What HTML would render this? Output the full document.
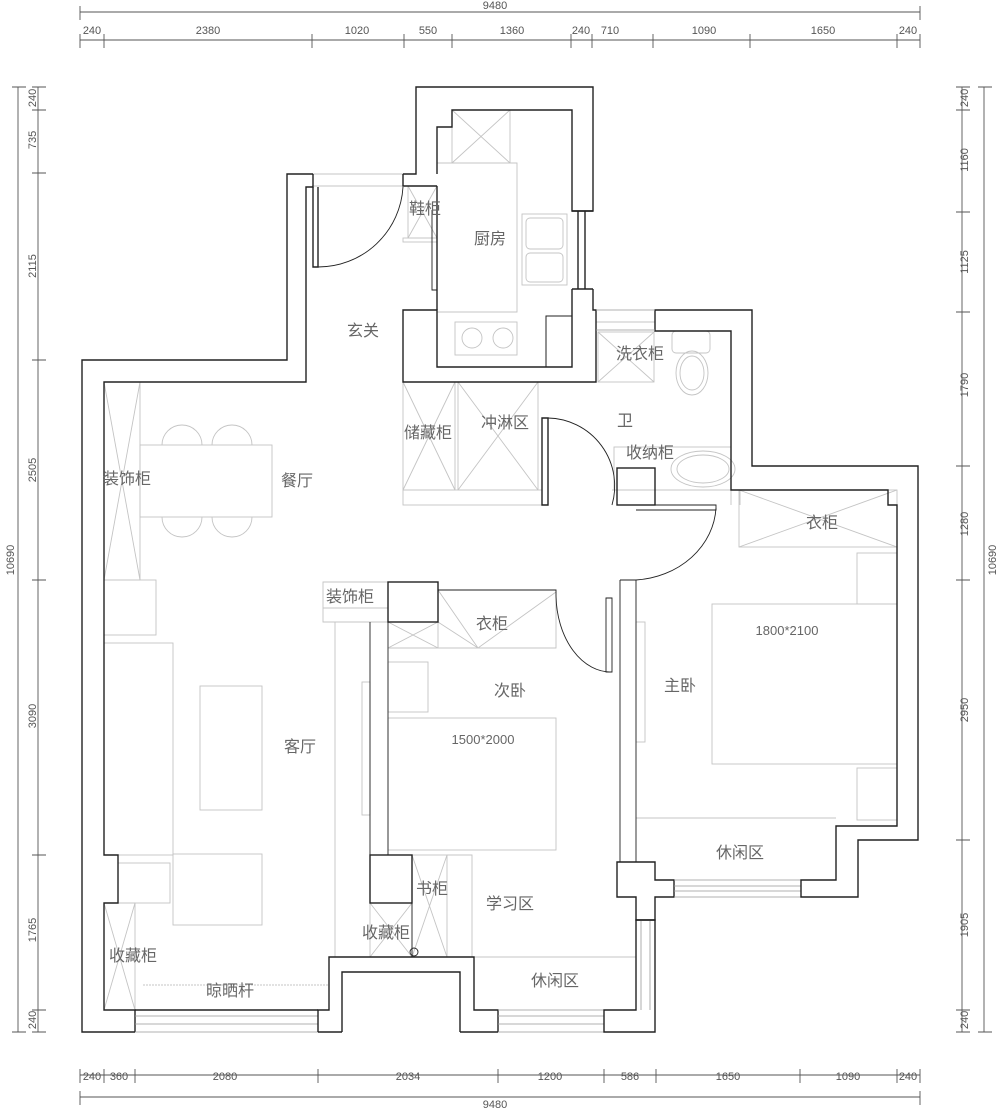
<!DOCTYPE html>
<html><head><meta charset="utf-8"><style>
html,body{margin:0;padding:0;background:#fff;}
svg{display:block;}
text{font-family:"Liberation Sans","Noto Sans CJK SC",sans-serif;}
.w{fill:none;stroke:#222;stroke-width:1.4;}
.g{fill:none;stroke:#c4c4c4;stroke-width:0.9;}
.d{fill:none;stroke:#555;stroke-width:0.9;}
.lb{font-size:16px;fill:#666;text-anchor:middle;}
.dm{font-size:11px;fill:#555;text-anchor:middle;font-family:"Liberation Mono",monospace;}
</style></head><body>
<svg width="1000" height="1113" viewBox="0 0 1000 1113" xmlns="http://www.w3.org/2000/svg">
<g class="d">
<line x1="80" y1="12" x2="920" y2="12"/><line x1="80" y1="40" x2="920" y2="40"/>
<line x1="80" y1="1075" x2="920" y2="1075"/><line x1="80" y1="1097" x2="920" y2="1097"/>
<line x1="38" y1="87" x2="38" y2="1032"/><line x1="18" y1="87" x2="18" y2="1032"/>
<line x1="962" y1="87" x2="962" y2="1032"/><line x1="984" y1="87" x2="984" y2="1032"/>
</g>
<g class="d">
<path d="M80 6v14M920 6v14M80 1091v14M920 1091v14M12 87h14M12 1032h14M978 87h14M978 1032h14"/>
<path d="M80 34v14M104 34v14M312 34v14M404 34v14M452 34v14M571 34v14M592 34v14M653 34v14M750 34v14M897 34v14M920 34v14"/>
<path d="M80 1069v14M104 1069v14M135 1069v14M318 1069v14M498 1069v14M604 1069v14M656 1069v14M800 1069v14M897 1069v14M920 1069v14"/>
<path d="M32 87h14M32 110h14M32 173h14M32 360h14M32 580h14M32 855h14M32 1010h14M32 1032h14"/>
<path d="M956 87h14M956 110h14M956 212h14M956 312h14M956 466h14M956 580h14M956 840h14M956 1010h14M956 1032h14"/>
</g>
<g class="dm">
<text x="495" y="9">9480</text>
<text x="92" y="34">240</text><text x="208" y="34">2380</text><text x="357" y="34">1020</text><text x="428" y="34">550</text><text x="512" y="34">1360</text><text x="581" y="34">240</text><text x="610" y="34">710</text><text x="704" y="34">1090</text><text x="823" y="34">1650</text><text x="908" y="34">240</text>
<text x="92" y="1080">240</text><text x="119" y="1080">360</text><text x="225" y="1080">2080</text><text x="408" y="1080">2034</text><text x="550" y="1080">1200</text><text x="630" y="1080">586</text><text x="728" y="1080">1650</text><text x="848" y="1080">1090</text><text x="908" y="1080">240</text>
<text x="495" y="1108">9480</text>
<g transform="rotate(-90)">
<text x="-98" y="36">240</text><text x="-140" y="36">735</text><text x="-266" y="36">2115</text><text x="-470" y="36">2505</text><text x="-716" y="36">3090</text><text x="-930" y="36">1765</text><text x="-1020" y="36">240</text><text x="-560" y="14">10690</text>
<text x="-98" y="968">240</text><text x="-160" y="968">1160</text><text x="-262" y="968">1125</text><text x="-385" y="968">1790</text><text x="-524" y="968">1280</text><text x="-710" y="968">2950</text><text x="-925" y="968">1905</text><text x="-1020" y="968">240</text><text x="-560" y="996">10690</text>
</g>
</g>

<g class="g">
<rect x="104" y="382" width="36" height="198"/><path d="M104 382L140 580M140 382L104 580"/>
<rect x="104" y="580" width="52" height="55"/>
<rect x="140" y="445" width="132" height="72"/>
<path d="M162 445a20 20 0 0 1 40 0M212 445a20 20 0 0 1 40 0M162 517a20 20 0 0 0 40 0M212 517a20 20 0 0 0 40 0"/>
<rect x="104" y="643" width="69" height="212"/>
<rect x="200" y="686" width="62" height="124"/>
<rect x="173" y="854" width="89" height="71"/>
<rect x="118" y="863" width="52" height="40"/>
<rect x="104" y="903" width="31" height="107"/><path d="M104 903L135 1010M135 903L104 1010"/>
<line x1="335" y1="622" x2="335" y2="957"/>
<line x1="143" y1="985" x2="328" y2="985" stroke-dasharray="2 1"/>
<path d="M312 186h91M312 174h91"/>
<rect x="452" y="110" width="58" height="53"/><path d="M452 110L510 163M510 110L452 163"/>
<path d="M437 163h80v149h-80"/>
<rect x="522" y="214" width="45" height="71"/><rect x="526" y="218" width="37" height="31" rx="4"/><rect x="526" y="253" width="37" height="29" rx="4"/>
<rect x="455" y="322" width="62" height="33"/><circle cx="472" cy="338" r="10"/><circle cx="503" cy="338" r="10"/>
<rect x="408" y="186" width="29" height="52"/><path d="M408 186L437 238M437 186L408 238"/>
<rect x="403" y="238" width="34" height="4"/>
<rect x="403" y="382" width="52" height="108"/><path d="M403 382L455 490M455 382L403 490"/>
<rect x="458" y="382" width="80" height="108"/><path d="M458 382L538 490M538 382L458 490"/>
<rect x="403" y="490" width="139" height="15"/>
<path d="M596 322h59"/>
<rect x="598" y="332" width="56" height="50"/><path d="M598 332L654 382M654 332L598 382"/>
<rect x="672" y="331" width="38" height="22" rx="4"/><ellipse cx="692" cy="373" rx="16" ry="22"/><ellipse cx="692" cy="373" rx="12" ry="17"/>
<rect x="614" y="447" width="117" height="43"/><ellipse cx="703" cy="469" rx="32" ry="18"/><ellipse cx="703" cy="469" rx="26" ry="14"/>
<path d="M612 490h128v15M731 490v15"/>
<rect x="739" y="490" width="158" height="57"/><path d="M739 490L897 547M739 547L897 490"/>
<rect x="857" y="553" width="40" height="51"/><rect x="712" y="604" width="185" height="160"/><rect x="857" y="768" width="40" height="52"/>
<rect x="636" y="622" width="9" height="120"/>
<line x1="636" y1="818" x2="836" y2="818"/>
<path d="M323 582h65v40h-65z M323 608h65"/>
<rect x="438" y="590" width="118" height="58"/><path d="M388 648L438 622L478 648L556 592M388 622L438 648M438 590L478 648"/>
<path d="M388 648h168"/>
<rect x="388" y="662" width="40" height="50"/><rect x="362" y="682" width="8" height="133"/>
<rect x="388" y="718" width="168" height="132"/>
<rect x="412" y="855" width="35" height="102"/><path d="M412 855L447 957M447 855L412 957"/>
<rect x="370" y="903" width="42" height="54"/><path d="M370 903L412 957M412 903L370 957"/>
<path d="M447 855h25v102"/>
<path d="M474 957h162"/>
</g>

<g class="w">
<path d="M313 174H287V360H82V1032H135"/>
<path d="M313 174v13h-7V382H104V855h14v48h-14v107h31v22"/>
<path d="M135 1010h183"/>
<path d="M135 1032h183M135 1016h183M135 1024h183" stroke="#999" stroke-width="0.8"/>
<path d="M318 1032V1010h11V957h145v53h24v22M342 1032V972h118v60M318 1032h24M460 1032h38"/>
<path d="M498 1010h106M498 1016h106M498 1024h106M498 1032h106" stroke="#999" stroke-width="0.8"/>
<path d="M604 1032V1010h32V920h19V1032z"/>
<path d="M641 920v90M650 920v90" stroke="#999" stroke-width="0.8"/>
<path d="M617 862h38v18h19v17h-19v23h-19v-23h-19z"/>
<path d="M674 880h127M674 897h127M674 886h127M674 891h127" stroke="#999" stroke-width="0.8"/>
<path d="M801 880h35v-54h61V505h-9v-15H731V331h-76v-21h97v156h166v374h-60v57h-57z"/>
<path d="M403 174h13V87h177v124h-21V110H452v17h-15v47"/>
<path d="M403 174v12h34"/>
<path d="M437 186V310"/><path d="M432 210v80h5" stroke-width="0.9"/>
<path d="M572 211h21M572 289h21M578 211v78M585 211v78"/>
<path d="M572 289v78H437v-57h-34v72h193v-72h-3v-21"/>
<path d="M596 310h59M596 330h59" stroke="#999" stroke-width="0.8"/>
<rect x="546" y="316" width="26" height="51" stroke-width="1"/>
<path d="M542 418h6v87h-6z"/>
<path d="M548 418A68 68 0 0 1 612 505" stroke-width="0.9"/>
<rect x="617" y="468" width="38" height="37"/>
<path d="M636 505h80v5h-80" stroke-width="0.9"/>
<path d="M716 508A86 76 0 0 1 636 580" stroke-width="0.9"/>
<path d="M620 580h16M620 580v282M636 580v282" stroke-width="0.9"/>
<rect x="388" y="582" width="50" height="40"/>
<path d="M438 590h118v6" stroke-width="0.9"/>
<path d="M556 596A55 78 0 0 0 612 672" stroke-width="0.9"/>
<path d="M606 598h6v74h-6z" stroke-width="0.9"/>
<path d="M370 622V855M388 622V855" stroke-width="0.9"/>
<rect x="370" y="855" width="42" height="48"/>
<path d="M412 903v54h8" stroke-width="0.9"/><circle cx="414" cy="952" r="4" stroke-width="0.9"/>
<path d="M313 187v80h5v-80"/><path d="M318 267A85 85 0 0 0 403 187" stroke-width="0.9"/>
</g>

<g class="lb">
<text x="425" y="214">鞋柜</text><text x="490" y="244">厨房</text><text x="363" y="336">玄关</text>
<text x="640" y="359">洗衣柜</text><text x="625" y="426">卫</text><text x="428" y="438">储藏柜</text><text x="505" y="428">冲淋区</text>
<text x="650" y="458">收纳柜</text><text x="127" y="484">装饰柜</text><text x="297" y="486">餐厅</text><text x="822" y="528">衣柜</text>
<text x="350" y="602">装饰柜</text><text x="492" y="629">衣柜</text><text x="510" y="696">次卧</text><text x="680" y="691">主卧</text>
<text x="300" y="752">客厅</text><text x="740" y="858">休闲区</text><text x="432" y="894">书柜</text><text x="510" y="909">学习区</text>
<text x="386" y="938">收藏柜</text><text x="133" y="961">收藏柜</text><text x="230" y="996">晾晒杆</text><text x="555" y="986">休闲区</text>
<text x="787" y="635" style="font-size:13px">1800*2100</text><text x="483" y="744" style="font-size:13px">1500*2000</text>
</g>
</svg>
</body></html>
